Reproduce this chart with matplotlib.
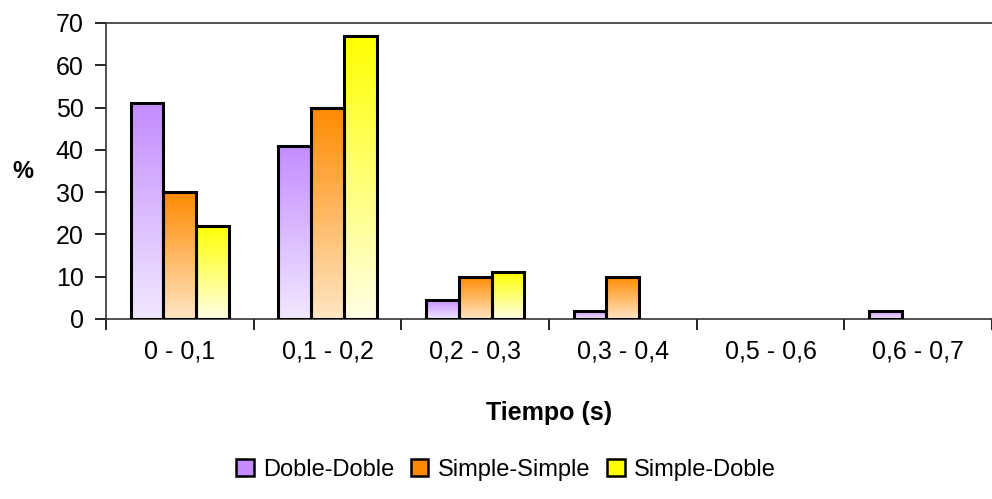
import numpy as np
import matplotlib
matplotlib.use('Agg')
import matplotlib.pyplot as plt
from matplotlib.colors import LinearSegmentedColormap
from matplotlib.patches import Patch

plt.rcParams['font.family'] = ['Liberation Sans', 'DejaVu Sans']

categories = ['0 - 0,1', '0,1 - 0,2', '0,2 - 0,3', '0,3 - 0,4', '0,5 - 0,6', '0,6 - 0,7']
series_names = ['Doble-Doble', 'Simple-Simple', 'Simple-Doble']
doble_doble = [51, 41, 4.5, 2, 0, 2]
simple_simple = [30, 50, 10, 10, 0, 0]
simple_doble = [22, 67, 11, 0, 0, 0]

# (top colour, bottom colour) for the vertical gradient of each series
grads = [('#c48cff', '#f1e8ff'), ('#ff8a00', '#ffe6c4'), ('#ffff00', '#ffffe6')]

fig = plt.figure(figsize=(9.92, 4.99), dpi=100)
ax = fig.add_axes([106/992, 1-319/499, 1-106/992, (319-23)/499])

x = np.arange(len(categories))
w = 0.222
grad = np.linspace(1, 0, 256).reshape(-1, 1)
for i, vals in enumerate([doble_doble, simple_simple, simple_doble]):
    cmap = LinearSegmentedColormap.from_list('g%d' % i, [grads[i][1], grads[i][0]])
    bars = ax.bar(x + (i-1)*w, vals, w, facecolor='none', edgecolor='black', linewidth=2.2, zorder=3)
    for b in bars:
        h = b.get_height()
        if h <= 0:
            b.set_visible(False)
            continue
        x0 = b.get_x()
        im = ax.imshow(grad, cmap=cmap, vmin=0, vmax=1, aspect='auto',
                       extent=[x0, x0 + b.get_width(), 0, h], zorder=2)
        im.set_clip_path(b)

ax.set_xlim(-0.5, -0.5 + 886/150)
ax.set_ylim(0, 70)
ax.set_yticks(range(0, 71, 10))
ax.set_xticks(x)
ax.set_xticklabels(categories)
ax.set_xticks(np.arange(len(categories)+1) - 0.5, minor=True)
ax.tick_params(axis='x', which='major', length=0, pad=15, labelsize=18)
ax.tick_params(axis='x', which='minor', length=8, width=1.2, direction='out')
ax.tick_params(axis='y', length=8, width=1.2, labelsize=18, pad=8)
ax.spines['right'].set_visible(False)
for s in ['left', 'bottom', 'top']:
    ax.spines[s].set_linewidth(1.2)
    ax.spines[s].set_color('#333333')

ax.set_xlabel('Tiempo (s)', fontsize=18, fontweight='bold', labelpad=27)
ax.set_ylabel('%', fontsize=17, fontweight='bold', rotation=0, labelpad=24, va='center')

handles = [Patch(facecolor=g[0], edgecolor='black', linewidth=1.8) for g in grads]
fig.legend(handles, series_names, loc='center', bbox_to_anchor=(0.51, 0.058), ncol=3,
           frameon=False, fontsize=17, handlelength=0.75, handleheight=0.75,
           handletextpad=0.4, columnspacing=0.7)

fig.savefig('out.png', dpi=100)
